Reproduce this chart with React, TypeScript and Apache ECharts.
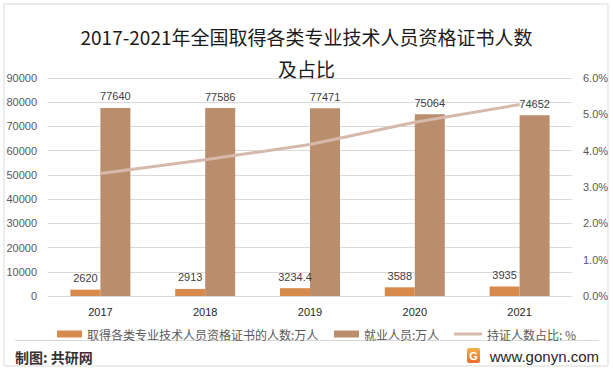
import React, { useEffect, useRef } from "react";
import * as echarts from "echarts";

const years = ["2017", "2018", "2019", "2020", "2021"];
const certified = [2620, 2913, 3234.4, 3588, 3935];
const employed = [77640, 77586, 77471, 75064, 74652];
const ratioPct = [3.37, 3.75, 4.17, 4.78, 5.27];

const seriesNames = [
  "取得各类专业技术人员资格证书的人数:万人",
  "就业人员:万人",
  "持证人数占比: %",
];
const titleText = "2017-2021年全国取得各类专业技术人员资格证书人数\n及占比";

const ORANGE = "#D68B4C";
const BROWN = "#BA8D6D";
const LINE = "#D6B9AB";
const FONT = "'Liberation Sans', Arial, 'Noto Sans CJK SC', sans-serif";
const CJK = "'Noto Sans CJK SC', 'Liberation Sans', sans-serif";

export default function App() {
  const ref = useRef<HTMLDivElement>(null);
  useEffect(() => {
    if (!ref.current) return;
    const chart = echarts.init(ref.current, undefined, { renderer: "svg" });
    const legendText = { color: "#595959", fontSize: 12, fontFamily: CJK };
    chart.setOption({
      animation: false,
      backgroundColor: "#ffffff",
      title: {
        text: titleText,
        left: "center",
        top: 15,
        textStyle: {
          fontSize: 19,
          fontWeight: "normal",
          color: "#1a1a1a",
          fontFamily: CJK,
          lineHeight: 32,
        },
      },
      legend: [
        {
          data: [seriesNames[0]],
          left: 52,
          top: 323,
          icon: "rect",
          itemWidth: 25,
          itemHeight: 7,
          itemGap: 0,
          textStyle: legendText,
          selectedMode: false,
        },
        {
          data: [seriesNames[1]],
          left: 329,
          top: 323,
          icon: "rect",
          itemWidth: 25,
          itemHeight: 7,
          textStyle: legendText,
          selectedMode: false,
        },
        {
          data: [seriesNames[2]],
          left: 449,
          top: 323,
          icon: "rect",
          itemWidth: 28,
          itemHeight: 3,
          textStyle: legendText,
          selectedMode: false,
        },
      ],
      grid: { left: 48, right: 41, top: 78, bottom: 74, containLabel: false },
      xAxis: {
        type: "category",
        data: years,
        axisLine: { lineStyle: { color: "#d9d9d9" } },
        axisTick: { show: false },
        axisLabel: { color: "#262626", fontSize: 11, fontFamily: FONT, margin: 10 },
      },
      yAxis: [
        {
          type: "value",
          min: 0,
          max: 90000,
          interval: 10000,
          axisLine: { show: false },
          axisTick: { show: false },
          axisLabel: {
            color: "#595959",
            fontSize: 11,
            fontFamily: FONT,
            margin: 11,
            formatter: (v: number) => String(v),
          },
          splitLine: { lineStyle: { color: "#d9d9d9" } },
        },
        {
          type: "value",
          min: 0,
          max: 6,
          interval: 1,
          axisLine: { show: false },
          axisTick: { show: false },
          axisLabel: {
            color: "#595959",
            fontSize: 11,
            fontFamily: FONT,
            margin: 11,
            formatter: (v: number) => v.toFixed(1) + "%",
          },
          splitLine: { show: false },
        },
      ],
      series: [
        {
          name: seriesNames[0],
          type: "bar",
          data: certified,
          barWidth: 30,
          barGap: "0%",
          itemStyle: { color: ORANGE },
          label: {
            show: true,
            position: "top",
            distance: 6,
            color: "#404040",
            fontSize: 11,
            fontFamily: FONT,
          },
        },
        {
          name: seriesNames[1],
          type: "bar",
          data: employed,
          barWidth: 30,
          barGap: "0%",
          itemStyle: { color: BROWN },
          label: {
            show: true,
            position: "top",
            distance: 6,
            color: "#404040",
            fontSize: 11,
            fontFamily: FONT,
          },
        },
        {
          name: seriesNames[2],
          type: "line",
          yAxisIndex: 1,
          data: ratioPct,
          symbol: "none",
          lineStyle: { color: LINE, width: 3 },
          itemStyle: { color: LINE },
          z: 5,
        },
      ],
      graphic: [
        {
          type: "rect",
          shape: { x: 4, y: 4, width: 604, height: 362 },
          style: { fill: "none", stroke: "#d9d9d9", lineWidth: 1 },
          silent: true,
        },
        {
          type: "line",
          shape: { x1: 15, y1: 340.5, x2: 599, y2: 340.5 },
          style: { stroke: "#d9d9d9", lineWidth: 1 },
          silent: true,
        },
        {
          type: "text",
          x: 15,
          y: 357,
          style: {
            text: "制图: 共研网",
            fill: "#333333",
            fontSize: 14,
            fontWeight: "bold",
            fontFamily: CJK,
            verticalAlign: "middle",
          },
        },
        {
          type: "rect",
          shape: { x: 467, y: 348, width: 13, height: 15, r: 2 },
          style: {
            fill: new echarts.graphic.LinearGradient(0, 0, 0, 1, [
              { offset: 0, color: "#F6B04A" },
              { offset: 1, color: "#EE6A2C" },
            ]),
          },
        },
        {
          type: "text",
          x: 473.5,
          y: 355.5,
          style: {
            text: "G",
            fill: "#ffffff",
            fontSize: 11,
            fontWeight: "bold",
            fontFamily: FONT,
            align: "center",
            verticalAlign: "middle",
          },
        },
        {
          type: "text",
          x: 599,
          y: 356,
          style: {
            text: "www.gonyn.com",
            fill: "#262626",
            fontSize: 15,
            fontFamily: FONT,
            align: "right",
            verticalAlign: "middle",
          },
        },
      ],
    });
    return () => chart.dispose();
  }, []);
  return (
    <div
      ref={ref}
      style={{ position: "fixed", left: 0, top: 0, width: 613, height: 370 }}
    />
  );
}
